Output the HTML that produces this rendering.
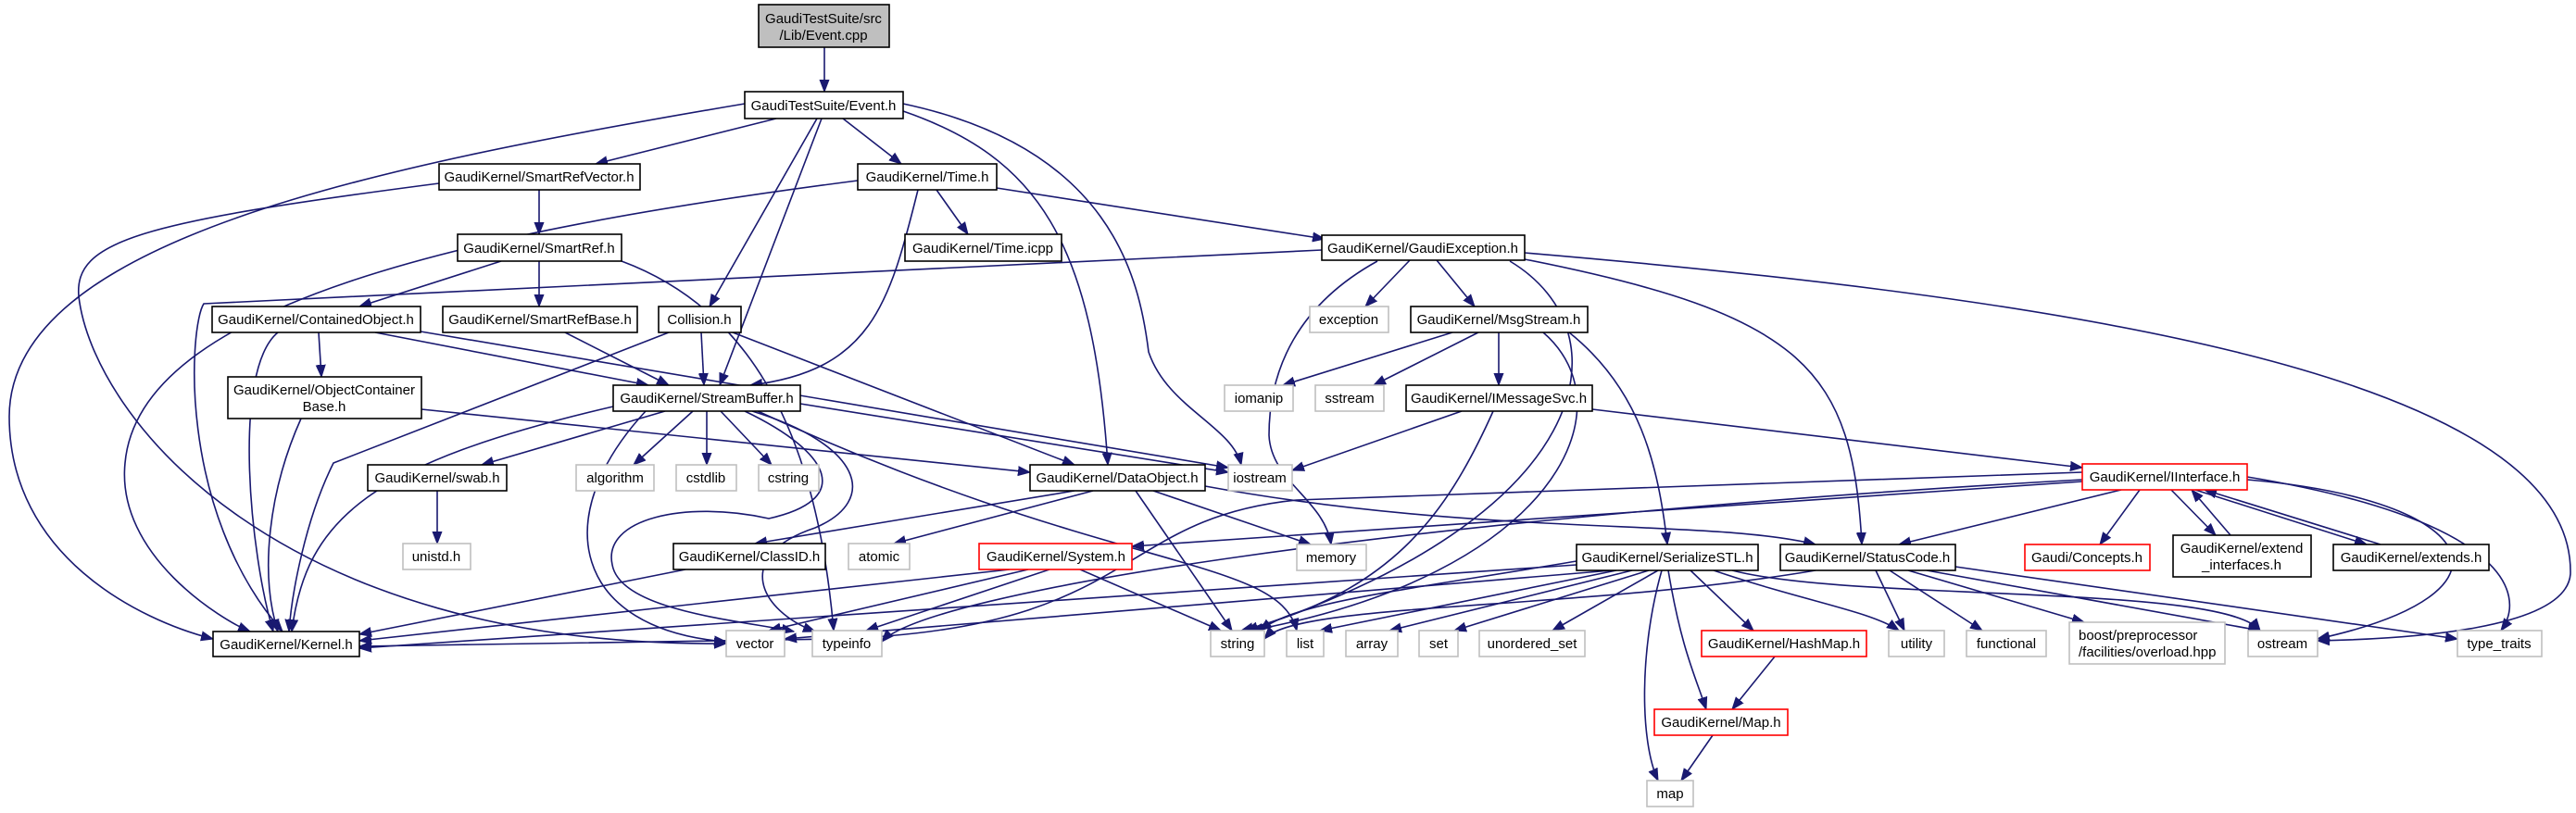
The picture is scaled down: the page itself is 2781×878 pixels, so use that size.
<!DOCTYPE html>
<html><head><meta charset="utf-8"><style>
html,body{margin:0;padding:0;background:#fff;}
svg{display:block;}
text{font-family:"Liberation Sans","DejaVu Sans",sans-serif;font-size:15px;fill:#000;}
.e{fill:none;stroke:#191970;stroke-width:1.6;marker-end:url(#a);}
.n{fill:#fff;stroke:#000;stroke-width:1.6;}
.g{fill:#fff;stroke:#bfbfbf;stroke-width:1.6;}
.r{fill:#fff;stroke:#ff0000;stroke-width:1.6;}
</style></head><body>
<svg width="2781" height="878" viewBox="0 0 2781 878" xmlns="http://www.w3.org/2000/svg">
<defs><marker id="a" markerUnits="userSpaceOnUse" markerWidth="14" markerHeight="12" refX="13" refY="6" orient="auto"><path d="M0,1 L13,6 L0,11 Z" fill="#191970" stroke="#191970"/></marker></defs>
<rect width="2781" height="878" fill="#fff"/>
<g>
<path class="e" d="M890,51 L890,99"/>
<path class="e" d="M804,112 C400,180 10,260 10,450 C10,600 150,670 230,690"/>
<path class="e" d="M838,128 L643,177"/>
<path class="e" d="M910,128 L973,177"/>
<path class="e" d="M882,128 L766,331"/>
<path class="e" d="M887,128 L777,416"/>
<path class="e" d="M975,120 C1120,170 1180,260 1196,502"/>
<path class="e" d="M975,112 C1200,160 1230,300 1240,380 C1260,440 1330,460 1340,502"/>
<path class="e" d="M582,205 L582,253"/>
<path class="e" d="M474,198 C150,240 80,260 85,320 C100,450 300,700 784,695"/>
<path class="e" d="M926,195 C500,250 150,330 135,500 C125,600 240,670 270,682"/>
<path class="e" d="M1011,205 L1045,253"/>
<path class="e" d="M991,205 C960,330 940,400 810,416"/>
<path class="e" d="M1076,203 L1430,258"/>
<path class="e" d="M541,282 L388,331"/>
<path class="e" d="M582,282 L582,331"/>
<path class="e" d="M671,282 C800,330 880,450 900,681"/>
<path class="e" d="M1427,270 L220,328 C205,350 190,550 305,682"/>
<path class="e" d="M1522,281 L1474,331"/>
<path class="e" d="M1551,281 L1592,331"/>
<path class="e" d="M1487,282 C1400,330 1370,400 1370,470 C1372,520 1430,540 1437,588"/>
<path class="e" d="M1630,282 C1760,360 1720,560 1345,681"/>
<path class="e" d="M1646,280 C1950,340 2000,400 2010,588"/>
<path class="e" d="M1646,273 C2200,320 2780,400 2775,620 C2770,680 2600,690 2502,692"/>
<path class="e" d="M300,359 C250,400 270,600 295,682"/>
<path class="e" d="M344,359 L347,407"/>
<path class="e" d="M405,359 L700,416"/>
<path class="e" d="M454,358 L1326,505"/>
<path class="e" d="M610,359 L722,416"/>
<path class="e" d="M757,359 L760,416"/>
<path class="e" d="M722,359 L360,500 C330,560 315,640 312,682"/>
<path class="e" d="M791,359 L1160,502"/>
<path class="e" d="M325,452 C290,530 280,620 300,682"/>
<path class="e" d="M455,442 L1112,510"/>
<path class="e" d="M662,439 C400,500 330,560 315,682"/>
<path class="e" d="M718,444 L520,502"/>
<path class="e" d="M748,444 L684,502"/>
<path class="e" d="M763,444 L763,502"/>
<path class="e" d="M778,444 L833,502"/>
<path class="e" d="M697,444 C590,560 620,680 784,693"/>
<path class="e" d="M804,444 C900,490 920,540 830,560 C740,540 650,560 661,610 C670,660 800,670 857,682"/>
<path class="e" d="M812,444 C930,480 950,540 880,570 C790,600 820,660 880,682"/>
<path class="e" d="M818,444 C1200,620 1380,600 1400,681"/>
<path class="e" d="M864,436 L1326,510"/>
<path class="e" d="M1568,359 L1385,416"/>
<path class="e" d="M1596,359 L1483,416"/>
<path class="e" d="M1618,359 L1618,416"/>
<path class="e" d="M1694,359 C1770,420 1790,500 1800,588"/>
<path class="e" d="M1666,359 C1760,440 1680,620 1350,681"/>
<path class="e" d="M1578,444 L1395,508"/>
<path class="e" d="M1719,442 L2248,505"/>
<path class="e" d="M1612,444 C1560,560 1500,640 1340,681"/>
<path class="e" d="M472,530 L472,587"/>
<path class="e" d="M1160,530 L815,587"/>
<path class="e" d="M1180,530 L965,587"/>
<path class="e" d="M1245,530 L1415,588"/>
<path class="e" d="M1226,530 L1330,681"/>
<path class="e" d="M1301,525 C1600,580 1850,560 1960,588"/>
<path class="e" d="M740,615 L388,685"/>
<path class="e" d="M1090,615 L388,692"/>
<path class="e" d="M1110,615 L830,681"/>
<path class="e" d="M1133,615 L935,681"/>
<path class="e" d="M1166,615 L1318,681"/>
<path class="e" d="M2248,520 L1222,590"/>
<path class="e" d="M2248,510 L1400,540 C1200,560 1230,680 900,690 L388,698"/>
<path class="e" d="M2290,529 L2050,588"/>
<path class="e" d="M2310,529 L2267,588"/>
<path class="e" d="M2344,529 L2392,578"/>
<path class="e" d="M2408,578 L2366,529"/>
<path class="e" d="M2570,588 L2380,529"/>
<path class="e" d="M2370,529 L2555,588"/>
<path class="e" d="M2426,518 C2680,540 2730,640 2502,690"/>
<path class="e" d="M2426,515 C2700,560 2730,640 2700,681"/>
<path class="e" d="M2248,518 C1500,560 1000,640 952,693"/>
<path class="e" d="M1702,610 L388,700"/>
<path class="e" d="M1740,616 L847,690"/>
<path class="e" d="M1745,616 L1425,681"/>
<path class="e" d="M1762,616 L1500,681"/>
<path class="e" d="M1780,616 L1570,681"/>
<path class="e" d="M1790,616 L1676,681"/>
<path class="e" d="M1825,616 L1893,681"/>
<path class="e" d="M1801,616 C1815,700 1830,730 1842,766"/>
<path class="e" d="M1794,616 C1770,700 1770,800 1790,843"/>
<path class="e" d="M1850,616 C1950,650 2020,660 2050,681"/>
<path class="e" d="M1870,616 C2000,650 2400,630 2440,681"/>
<path class="e" d="M1702,606 C1500,640 1400,650 1360,681"/>
<path class="e" d="M2025,616 L2056,681"/>
<path class="e" d="M2040,616 L2140,681"/>
<path class="e" d="M2060,616 L2250,672"/>
<path class="e" d="M2080,616 L2440,681"/>
<path class="e" d="M2111,612 L2653,690"/>
<path class="e" d="M1960,616 C1700,660 1400,650 1365,690"/>
<path class="e" d="M1916,709 L1870,766"/>
<path class="e" d="M1849,794 L1815,843"/>
</g>
<g>
<rect x="819" y="5" width="141" height="46" fill="#bfbfbf" stroke="#000" stroke-width="1.6"/>
<text x="889" y="25" text-anchor="middle">GaudiTestSuite/src</text><text x="889" y="43" text-anchor="middle">/Lib/Event.cpp</text>

<rect class="n" x="804" y="99" width="171" height="29"/><text x="889" y="119" text-anchor="middle">GaudiTestSuite/Event.h</text>
<rect class="n" x="474" y="177" width="217" height="28"/><text x="582" y="196" text-anchor="middle">GaudiKernel/SmartRefVector.h</text>
<rect class="n" x="926" y="177" width="150" height="28"/><text x="1001" y="196" text-anchor="middle">GaudiKernel/Time.h</text>
<rect class="n" x="494" y="253" width="177" height="29"/><text x="582" y="273" text-anchor="middle">GaudiKernel/SmartRef.h</text>
<rect class="n" x="977" y="253" width="169" height="29"/><text x="1061" y="273" text-anchor="middle">GaudiKernel/Time.icpp</text>
<rect class="n" x="1427" y="254" width="219" height="27"/><text x="1536" y="273" text-anchor="middle">GaudiKernel/GaudiException.h</text>
<rect class="n" x="229" y="331" width="225" height="28"/><text x="341" y="350" text-anchor="middle">GaudiKernel/ContainedObject.h</text>
<rect class="n" x="478" y="331" width="210" height="28"/><text x="583" y="350" text-anchor="middle">GaudiKernel/SmartRefBase.h</text>
<rect class="n" x="711" y="331" width="89" height="28"/><text x="755" y="350" text-anchor="middle">Collision.h</text>
<rect class="g" x="1414" y="331" width="85" height="28"/><text x="1456" y="350" text-anchor="middle">exception</text>
<rect class="n" x="1523" y="331" width="191" height="28"/><text x="1618" y="350" text-anchor="middle">GaudiKernel/MsgStream.h</text>
<rect class="n" x="246" y="407" width="209" height="45"/><text x="350" y="426" text-anchor="middle">GaudiKernel/ObjectContainer</text><text x="350" y="444" text-anchor="middle">Base.h</text>
<rect class="n" x="662" y="416" width="202" height="28"/><text x="763" y="435" text-anchor="middle">GaudiKernel/StreamBuffer.h</text>
<rect class="g" x="1322" y="416" width="74" height="28"/><text x="1359" y="435" text-anchor="middle">iomanip</text>
<rect class="g" x="1420" y="416" width="74" height="28"/><text x="1457" y="435" text-anchor="middle">sstream</text>
<rect class="n" x="1518" y="416" width="201" height="28"/><text x="1618" y="435" text-anchor="middle">GaudiKernel/IMessageSvc.h</text>
<rect class="n" x="397" y="502" width="150" height="28"/><text x="472" y="521" text-anchor="middle">GaudiKernel/swab.h</text>
<rect class="g" x="622" y="502" width="84" height="28"/><text x="664" y="521" text-anchor="middle">algorithm</text>
<rect class="g" x="730" y="502" width="65" height="28"/><text x="762" y="521" text-anchor="middle">cstdlib</text>
<rect class="g" x="819" y="502" width="65" height="28"/><text x="851" y="521" text-anchor="middle">cstring</text>
<rect class="n" x="1112" y="502" width="189" height="28"/><text x="1206" y="521" text-anchor="middle">GaudiKernel/DataObject.h</text>
<rect class="g" x="1326" y="502" width="69" height="28"/><text x="1360" y="521" text-anchor="middle">iostream</text>
<rect class="r" x="2248" y="501" width="178" height="28"/><text x="2337" y="520" text-anchor="middle">GaudiKernel/IInterface.h</text>
<rect class="g" x="435" y="587" width="73" height="28"/><text x="471" y="606" text-anchor="middle">unistd.h</text>
<rect class="n" x="727" y="587" width="164" height="28"/><text x="809" y="606" text-anchor="middle">GaudiKernel/ClassID.h</text>
<rect class="g" x="916" y="587" width="66" height="28"/><text x="949" y="606" text-anchor="middle">atomic</text>
<rect class="r" x="1057" y="587" width="165" height="28"/><text x="1140" y="606" text-anchor="middle">GaudiKernel/System.h</text>
<rect class="g" x="1400" y="588" width="75" height="28"/><text x="1437" y="607" text-anchor="middle">memory</text>
<rect class="n" x="1702" y="588" width="196" height="28"/><text x="1800" y="607" text-anchor="middle">GaudiKernel/SerializeSTL.h</text>
<rect class="n" x="1922" y="588" width="189" height="28"/><text x="2016" y="607" text-anchor="middle">GaudiKernel/StatusCode.h</text>
<rect class="r" x="2186" y="588" width="135" height="28"/><text x="2253" y="607" text-anchor="middle">Gaudi/Concepts.h</text>
<rect class="n" x="2346" y="578" width="149" height="45"/><text x="2420" y="597" text-anchor="middle">GaudiKernel/extend</text><text x="2420" y="615" text-anchor="middle">_interfaces.h</text>
<rect class="n" x="2519" y="588" width="168" height="28"/><text x="2603" y="607" text-anchor="middle">GaudiKernel/extends.h</text>
<rect class="n" x="230" y="682" width="158" height="27"/><text x="309" y="701" text-anchor="middle">GaudiKernel/Kernel.h</text>
<rect class="g" x="784" y="681" width="63" height="28"/><text x="815" y="700" text-anchor="middle">vector</text>
<rect class="g" x="877" y="681" width="75" height="28"/><text x="914" y="700" text-anchor="middle">typeinfo</text>
<rect class="g" x="1307" y="681" width="58" height="28"/><text x="1336" y="700" text-anchor="middle">string</text>
<rect class="g" x="1389" y="681" width="40" height="28"/><text x="1409" y="700" text-anchor="middle">list</text>
<rect class="g" x="1453" y="681" width="56" height="28"/><text x="1481" y="700" text-anchor="middle">array</text>
<rect class="g" x="1532" y="681" width="42" height="28"/><text x="1553" y="700" text-anchor="middle">set</text>
<rect class="g" x="1597" y="681" width="114" height="28"/><text x="1654" y="700" text-anchor="middle">unordered_set</text>
<rect class="r" x="1837" y="681" width="178" height="28"/><text x="1926" y="700" text-anchor="middle">GaudiKernel/HashMap.h</text>
<rect class="g" x="2039" y="681" width="60" height="28"/><text x="2069" y="700" text-anchor="middle">utility</text>
<rect class="g" x="2123" y="681" width="86" height="28"/><text x="2166" y="700" text-anchor="middle">functional</text>
<rect class="g" x="2234" y="672" width="168" height="45"/><text x="2244" y="691">boost/preprocessor</text><text x="2244" y="709">/facilities/overload.hpp</text>
<rect class="g" x="2427" y="681" width="75" height="28"/><text x="2464" y="700" text-anchor="middle">ostream</text>
<rect class="g" x="2653" y="681" width="91" height="28"/><text x="2698" y="700" text-anchor="middle">type_traits</text>
<rect class="r" x="1786" y="766" width="144" height="28"/><text x="1858" y="785" text-anchor="middle">GaudiKernel/Map.h</text>
<rect class="g" x="1778" y="843" width="50" height="28"/><text x="1803" y="862" text-anchor="middle">map</text>
</g>
</svg>
</body></html>
